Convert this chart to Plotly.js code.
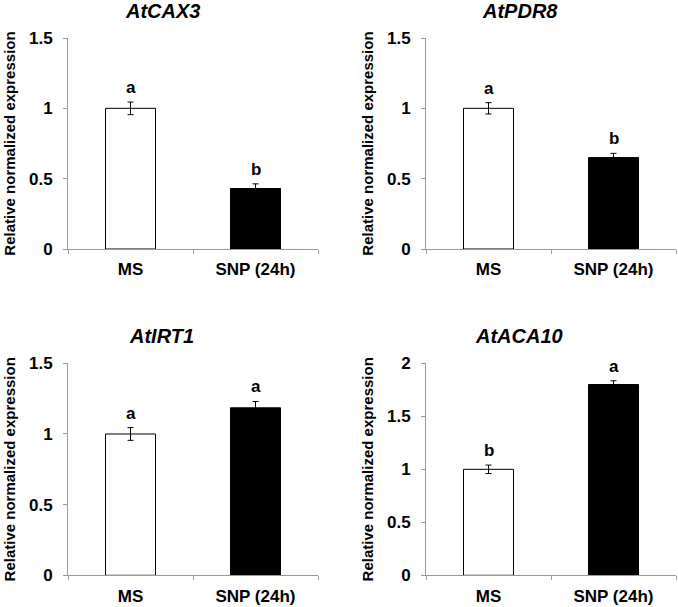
<!DOCTYPE html>
<html>
<head>
<meta charset="utf-8">
<script src="https://cdn.plot.ly/plotly-3.0.1.min.js"></script>
<style>html,body{margin:0;padding:0;background:#fff;}#chart{width:678px;height:607px;}</style>
</head>
<body>
<div id="chart"></div>
<script>
// ---- data ----
const categories = ["MS", "SNP (24h)"];
const genes = ["AtCAX3", "AtPDR8", "AtIRT1", "AtACA10"];

const cax3 = [1.0, 0.43];
const cax3Err = [0.045, 0.033];
const cax3Letters = ["a", "b"];

const pdr8 = [1.0, 0.65];
const pdr8Err = [0.04, 0.03];
const pdr8Letters = ["a", "b"];

const irt1 = [1.0, 1.185];
const irt1Err = [0.045, 0.045];
const irt1Letters = ["a", "a"];

const aca10 = [1.0, 1.80];
const aca10Err = [0.04, 0.035];
const aca10Letters = ["b", "a"];

const yMax = [1.5, 1.5, 1.5, 2];
const yTitle = "Relative normalized expression";

// ---- build ----
const W = 678, H = 607;
const FONT = "Arial, 'Liberation Sans', sans-serif";
const series = [
  {v: cax3, e: cax3Err, l: cax3Letters},
  {v: pdr8, e: pdr8Err, l: pdr8Letters},
  {v: irt1, e: irt1Err, l: irt1Letters},
  {v: aca10, e: aca10Err, l: aca10Letters}
];
const xDom = [[68 / W, 318 / W], [426 / W, 676 / W]];
const yDom = [[(H - 249) / H, (H - 38) / H], [(H - 575.3) / H, (H - 363.3) / H]];
const titlePos = [[162, 11], [520, 11], [161, 336], [519, 336]];

const data = [];
const annotations = [];
const layout = {
  width: W, height: H,
  margin: {l: 0, r: 0, t: 0, b: 0},
  paper_bgcolor: "#fff", plot_bgcolor: "#fff",
  showlegend: false,
  bargap: 0.6,
  font: {family: FONT, color: "#000"},
  annotations: annotations
};

series.forEach((s, i) => {
  const n = i + 1;
  const xa = "x" + (n === 1 ? "" : n);
  const ya = "y" + (n === 1 ? "" : n);
  const col = i % 2, row = Math.floor(i / 2);
  data.push({
    type: "bar",
    x: categories, y: s.v,
    xaxis: xa, yaxis: ya,
    marker: {color: ["#ffffff", "#000000"], line: {color: "#000", width: 1}},
    error_y: {type: "data", array: s.e, visible: true, color: "#000", thickness: 1, width: 3},
    hoverinfo: "x+y"
  });
  layout["xaxis" + (n === 1 ? "" : n)] = {
    domain: xDom[col], anchor: ya, type: "category",
    showline: true, linecolor: "#999", linewidth: 1,
    ticks: "outside", tickson: "boundaries", ticklen: 4, tickcolor: "#999",
    showgrid: false, zeroline: false, fixedrange: true,
    tickfont: {family: FONT, size: 17, weight: "bold", color: "#000"},
    ticklabelstandoff: 5
  };
  layout["yaxis" + (n === 1 ? "" : n)] = {
    domain: yDom[row], anchor: xa,
    range: [0, yMax[i]], dtick: 0.5, tick0: 0,
    showline: true, linecolor: "#999", linewidth: 1,
    ticks: "outside", ticklen: 4, tickcolor: "#999",
    showgrid: false, zeroline: false, fixedrange: true,
    tickfont: {family: FONT, size: 17, weight: "bold", color: "#000"},
    ticklabelstandoff: 7,
    title: {text: yTitle, font: {family: FONT, size: 15, weight: "bold", color: "#000"}, standoff: 9}
  };
  annotations.push({
    xref: "paper", yref: "paper",
    x: titlePos[i][0] / W, y: 1 - titlePos[i][1] / H,
    xanchor: "center", yanchor: "middle",
    text: genes[i], showarrow: false,
    font: {family: FONT, size: 20, weight: "bold", style: "italic", color: "#000"}
  });
  s.l.forEach((letter, k) => {
    annotations.push({
      xref: xa, yref: ya,
      x: categories[k], y: s.v[k] + s.e[k],
      xanchor: "center", yanchor: "bottom", yshift: 3,
      text: letter, showarrow: false,
      font: {family: FONT, size: 17, weight: "bold", color: "#000"}
    });
  });
});

Plotly.newPlot("chart", data, layout, {displayModeBar: false, staticPlot: true});
</script>
</body>
</html>
